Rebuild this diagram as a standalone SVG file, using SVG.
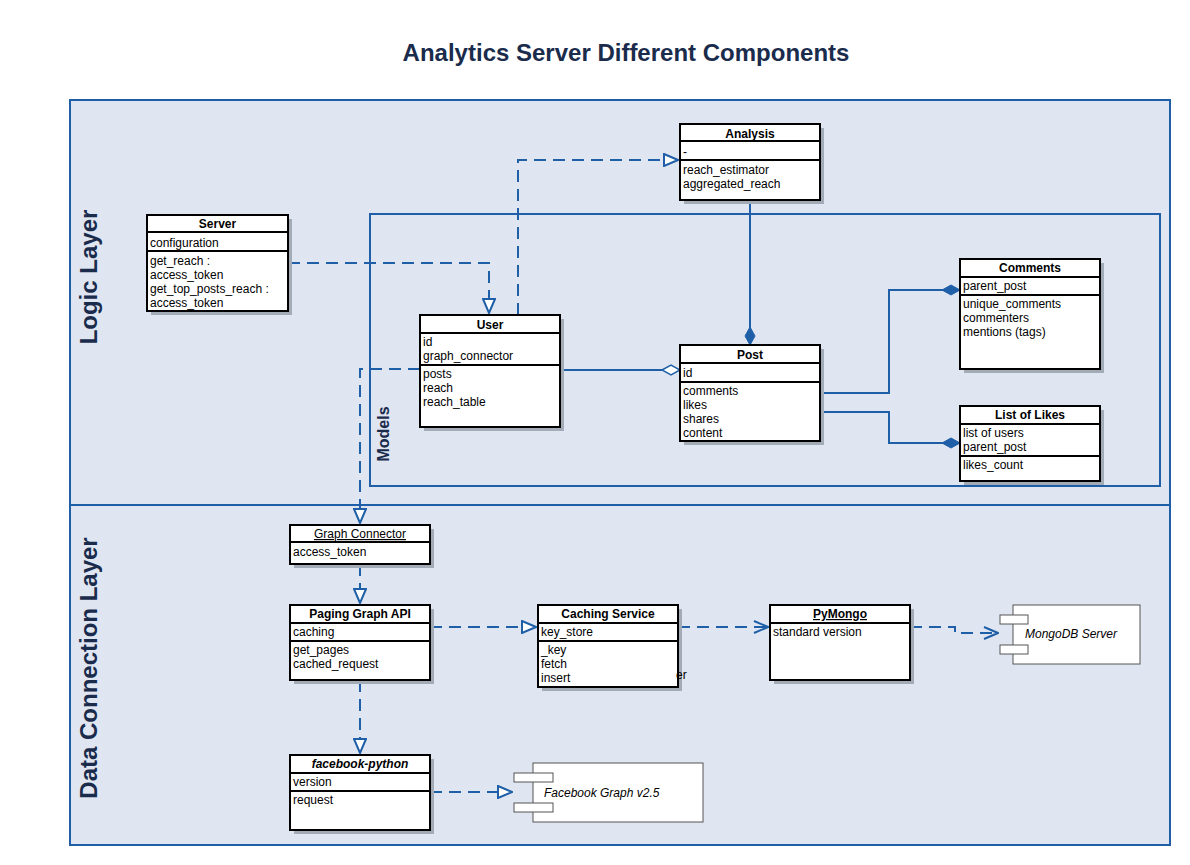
<svg xmlns="http://www.w3.org/2000/svg" width="1190" height="865" viewBox="0 0 1190 865">
<style>
text{font-family:"Liberation Sans",Arial,sans-serif;fill:#000}
.t{font-size:12px}
.h{font-size:12px;font-weight:bold;text-anchor:middle}
.box{fill:#fff;stroke:#000;stroke-width:2}
.sh{fill:#a3abb6}
.sep{stroke:#000;stroke-width:2}
.c{fill:none;stroke:#1f5fa8;stroke-width:2}
.d{stroke-dasharray:12,7}
.lane{font-size:24px;font-weight:bold;fill:#1a2b4c;text-anchor:middle}
</style>
<defs>
<marker id="tri" markerWidth="16" markerHeight="14" refX="15" refY="7" orient="auto" markerUnits="userSpaceOnUse"><path d="M1,1 L15,7 L1,13 Z" fill="#fff" stroke="#1f5fa8" stroke-width="2"/></marker>
<marker id="open" markerWidth="16" markerHeight="14" refX="15" refY="7" orient="auto" markerUnits="userSpaceOnUse"><path d="M1,1 L15,7 L1,13" fill="none" stroke="#1f5fa8" stroke-width="2"/></marker>
<marker id="dia" markerWidth="20" markerHeight="12" refX="19" refY="6" orient="auto" markerUnits="userSpaceOnUse"><path d="M1,6 L10,1 L19,6 L10,11 Z" fill="#1f5fa8" stroke="#1f5fa8" stroke-width="1"/></marker>
<marker id="odia" markerWidth="20" markerHeight="12" refX="19" refY="6" orient="auto" markerUnits="userSpaceOnUse"><path d="M1,6 L10,1 L19,6 L10,11 Z" fill="#fff" stroke="#1f5fa8" stroke-width="1.5"/></marker>
</defs>
<rect width="1190" height="865" fill="#fff"/>
<text x="626" y="61" style="font-size:24px;font-weight:bold;fill:#1a2b4c;text-anchor:middle">Analytics Server Different Components</text>
<g id="logic-layer">
<rect x="70" y="100" width="1100" height="405" fill="#dfe6f1" stroke="#1f5fa8" stroke-width="2"/>
<text class="lane" transform="translate(97,277) rotate(-90)">Logic Layer</text>
</g>
<g id="data-layer">
<rect x="70" y="505" width="1100" height="340" fill="#dfe6f1" stroke="#1f5fa8" stroke-width="2"/>
<text class="lane" transform="translate(97,668) rotate(-90)">Data Connection Layer</text>
</g>
<g id="models">
<rect x="370" y="214" width="790" height="272" fill="none" stroke="#1f5fa8" stroke-width="2"/>
<text transform="translate(389,434) rotate(-90)" style="font-size:16px;font-weight:bold;fill:#1a2b4c;text-anchor:middle">Models</text>
</g>
<g id="connectors">
<path class="c d" d="M288,263 H489 V313" marker-end="url(#tri)"/>
<path class="c d" d="M518,315 V160 H678" marker-end="url(#tri)"/>
<path class="c" d="M750,200 V345" marker-end="url(#dia)"/>
<path class="c" d="M560,370 H680" marker-end="url(#odia)"/>
<path class="c" d="M820,393 H889 V290 H960" marker-end="url(#dia)"/>
<path class="c" d="M820,412 H889 V443 H960" marker-end="url(#dia)"/>
<path class="c d" d="M420,369 H360 V523" marker-end="url(#tri)"/>
<path class="c d" d="M360,564 V603" marker-end="url(#tri)"/>
<path class="c d" d="M430,627 H536" marker-end="url(#tri)"/>
<path class="c d" d="M678,627 H768" marker-end="url(#open)"/>
<path class="c d" d="M910,627 H955 V633 H998" marker-end="url(#open)"/>
<path class="c d" d="M360,680 V753" marker-end="url(#tri)"/>
<path class="c d" d="M430,792 H512" marker-end="url(#tri)"/>
</g>
<g id="server">
<rect class="sh" x="151" y="219" width="141" height="96"/>
<rect class="box" x="147" y="215" width="141" height="96"/>
<line class="sep" x1="147" y1="232" x2="288" y2="232"/>
<line class="sep" x1="147" y1="251" x2="288" y2="251"/>
<text class="h" x="217.5" y="228">Server</text>
<text class="t" x="150" y="247">configuration</text>
<text class="t" x="150" y="265">get_reach :</text>
<text class="t" x="150" y="279">access_token</text>
<text class="t" x="150" y="293">get_top_posts_reach :</text>
<text class="t" x="150" y="307">access_token</text>
</g>
<g id="analysis">
<rect class="sh" x="684" y="128" width="140" height="76"/>
<rect class="box" x="680" y="124" width="140" height="76"/>
<line class="sep" x1="680" y1="141" x2="820" y2="141"/>
<line class="sep" x1="680" y1="160" x2="820" y2="160"/>
<text class="h" x="750" y="138">Analysis</text>
<text class="t" x="683" y="156">-</text>
<text class="t" x="683" y="174">reach_estimator</text>
<text class="t" x="683" y="188">aggregated_reach</text>
</g>
<g id="user">
<rect class="sh" x="424" y="319" width="140" height="112"/>
<rect class="box" x="420" y="315" width="140" height="112"/>
<line class="sep" x1="420" y1="333" x2="560" y2="333"/>
<line class="sep" x1="420" y1="365" x2="560" y2="365"/>
<text class="h" x="490" y="329">User</text>
<text class="t" x="423" y="346">id</text>
<text class="t" x="423" y="360">graph_connector</text>
<text class="t" x="423" y="378">posts</text>
<text class="t" x="423" y="392">reach</text>
<text class="t" x="423" y="406">reach_table</text>
</g>
<g id="post">
<rect class="sh" x="684" y="349" width="140" height="96"/>
<rect class="box" x="680" y="345" width="140" height="96"/>
<line class="sep" x1="680" y1="363" x2="820" y2="363"/>
<line class="sep" x1="680" y1="382" x2="820" y2="382"/>
<text class="h" x="750" y="359">Post</text>
<text class="t" x="683" y="377">id</text>
<text class="t" x="683" y="395">comments</text>
<text class="t" x="683" y="409">likes</text>
<text class="t" x="683" y="423">shares</text>
<text class="t" x="683" y="437">content</text>
</g>
<g id="comments">
<rect class="sh" x="964" y="263" width="140" height="110"/>
<rect class="box" x="960" y="259" width="140" height="110"/>
<line class="sep" x1="960" y1="277" x2="1100" y2="277"/>
<line class="sep" x1="960" y1="295" x2="1100" y2="295"/>
<text class="h" x="1030" y="272">Comments</text>
<text class="t" x="963" y="290">parent_post</text>
<text class="t" x="963" y="308">unique_comments</text>
<text class="t" x="963" y="322">commenters</text>
<text class="t" x="963" y="336">mentions (tags)</text>
</g>
<g id="list-of-likes">
<rect class="sh" x="964" y="410" width="140" height="75"/>
<rect class="box" x="960" y="406" width="140" height="75"/>
<line class="sep" x1="960" y1="424" x2="1100" y2="424"/>
<line class="sep" x1="960" y1="456" x2="1100" y2="456"/>
<text class="h" x="1030" y="419">List of Likes</text>
<text class="t" x="963" y="437">list of users</text>
<text class="t" x="963" y="451">parent_post</text>
<text class="t" x="963" y="469">likes_count</text>
</g>
<g id="graph-connector">
<rect class="sh" x="294" y="529" width="140" height="39"/>
<rect class="box" x="290" y="525" width="140" height="39"/>
<line class="sep" x1="290" y1="542" x2="430" y2="542"/>
<text x="360" y="538" style="font-size:12px;text-anchor:middle;text-decoration:underline">Graph Connector</text>
<text class="t" x="293" y="556">access_token</text>
</g>
<g id="paging-graph-api">
<rect class="sh" x="294" y="609" width="140" height="75"/>
<rect class="box" x="290" y="605" width="140" height="75"/>
<line class="sep" x1="290" y1="623" x2="430" y2="623"/>
<line class="sep" x1="290" y1="641" x2="430" y2="641"/>
<text class="h" x="360" y="618">Paging Graph API</text>
<text class="t" x="293" y="636">caching</text>
<text class="t" x="293" y="654">get_pages</text>
<text class="t" x="293" y="668">cached_request</text>
</g>
<g id="caching-service">
<rect class="sh" x="542" y="609" width="140" height="82"/>
<rect class="box" x="538" y="605" width="140" height="82"/>
<line class="sep" x1="538" y1="623" x2="678" y2="623"/>
<line class="sep" x1="538" y1="641" x2="678" y2="641"/>
<text class="h" x="608" y="618">Caching Service</text>
<text class="t" x="541" y="636">key_store</text>
<text class="t" x="541" y="654">_key</text>
<text class="t" x="541" y="668">fetch</text>
<text class="t" x="541" y="682">insert</text>
<text class="t" x="676" y="679">er</text>
</g>
<g id="pymongo">
<rect class="sh" x="774" y="609" width="140" height="75"/>
<rect class="box" x="770" y="605" width="140" height="75"/>
<line class="sep" x1="770" y1="623" x2="910" y2="623"/>
<text x="840" y="618" style="font-size:12px;font-weight:bold;text-anchor:middle;text-decoration:underline">PyMongo</text>
<text class="t" x="773" y="636">standard version</text>
</g>
<g id="mongodb-server">
<rect x="1013" y="605" width="127" height="59" fill="#fff" stroke="#555" stroke-width="1"/>
<rect x="1000" y="615" width="28" height="9" fill="#fff" stroke="#555" stroke-width="1"/>
<rect x="1000" y="645" width="28" height="9" fill="#fff" stroke="#555" stroke-width="1"/>
<text x="1025" y="638" style="font-size:12px;font-style:italic">MongoDB Server</text>
</g>
<g id="facebook-python">
<rect class="sh" x="294" y="759" width="140" height="75"/>
<rect class="box" x="290" y="755" width="140" height="75"/>
<line class="sep" x1="290" y1="773" x2="430" y2="773"/>
<line class="sep" x1="290" y1="791" x2="430" y2="791"/>
<text x="360" y="768" style="font-size:12px;font-weight:bold;font-style:italic;text-anchor:middle">facebook-python</text>
<text class="t" x="293" y="786">version</text>
<text class="t" x="293" y="804">request</text>
</g>
<g id="facebook-graph">
<rect x="533" y="763" width="170" height="59" fill="#fff" stroke="#555" stroke-width="1"/>
<rect x="514" y="773" width="39" height="9" fill="#fff" stroke="#555" stroke-width="1"/>
<rect x="514" y="803" width="39" height="9" fill="#fff" stroke="#555" stroke-width="1"/>
<text x="544" y="797" style="font-size:12px;font-style:italic">Facebook Graph v2.5</text>
</g>
</svg>
